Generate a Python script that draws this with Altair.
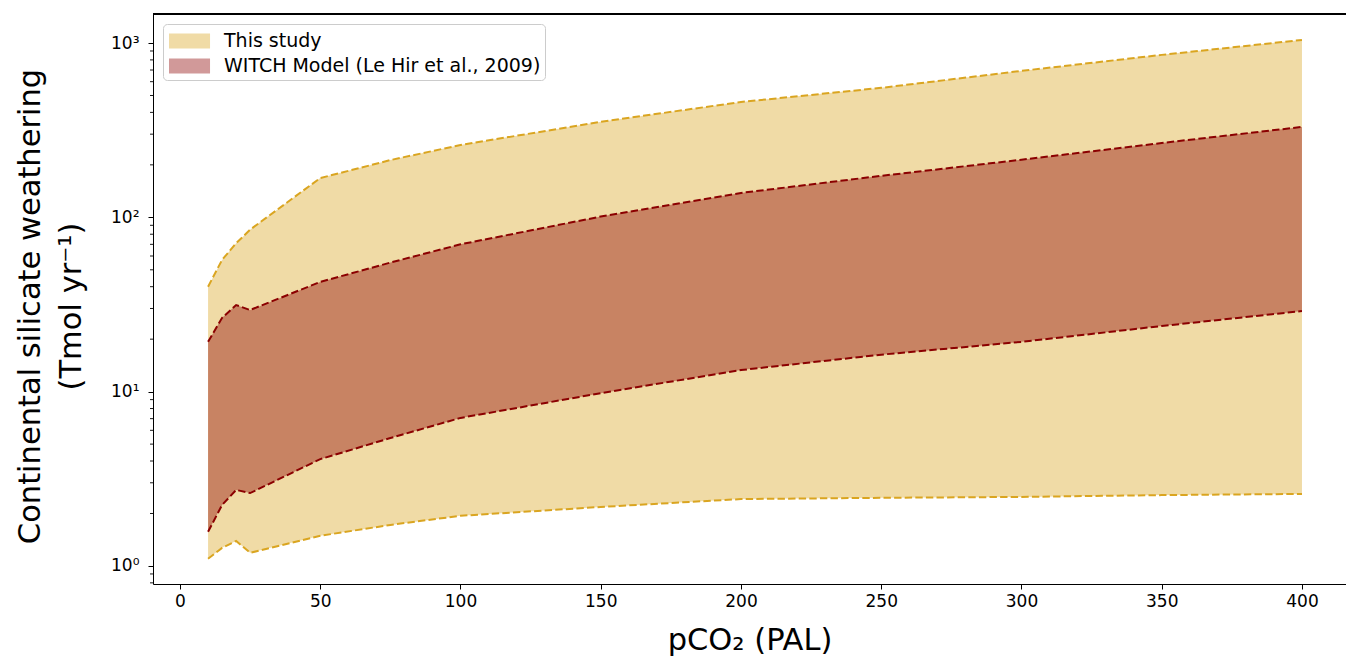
import altair as alt
import pandas as pd

# ---- data ----
pco2 = [10, 15, 20, 25, 50, 75, 100, 150, 200, 250, 300, 350, 400]
study_lo = [1.10, 1.27, 1.39, 1.19, 1.49, 1.72, 1.94, 2.18, 2.42, 2.46, 2.49, 2.55, 2.59]
study_hi = [40, 57, 71, 85, 168, 213, 260, 353, 459, 553, 692, 855, 1042]
witch_lo = [1.57, 2.24, 2.73, 2.62, 4.1, 5.42, 7.07, 9.8, 13.3, 16.3, 19.3, 23.8, 29.0]
witch_hi = [19.3, 26.5, 31.4, 29.4, 42.6, 55, 70, 101, 138, 173, 214, 267, 330]
series_names = ["This study", "WITCH Model (Le Hir et al., 2009)"]
series_colors = ["goldenrod", "darkred"]
x_ticks = [0, 50, 100, 150, 200, 250, 300, 350, 400]
y_major = [1, 10, 100, 1000]
y_minor = [0.8, 0.9, 2, 3, 4, 5, 6, 7, 8, 9, 20, 30, 40, 50, 60, 70, 80, 90,
           200, 300, 400, 500, 600, 700, 800, 900]

rows = []
for name, lo, hi in [(series_names[0], study_lo, study_hi), (series_names[1], witch_lo, witch_hi)]:
    for x, l, h in zip(pco2, lo, hi):
        rows.append({"series": name, "x": x, "lo": l, "hi": h})
df = pd.DataFrame(rows)
lines_df = df.melt(id_vars=["series", "x"], value_vars=["lo", "hi"], var_name="bound", value_name="v")
minor_df = pd.DataFrame({"m": y_minor})

W, H = 1193, 570
FONT = "DejaVu Sans"

xscale = alt.Scale(domain=[-9.63, 415.7], nice=False, zero=False)
yscale = alt.Scale(type="log", domain=[0.788, 1467], nice=False)

common_axis = dict(grid=False, labelFont=FONT, titleFont=FONT, labelColor="black",
                   titleColor="black", titleFontWeight="normal", domainColor="black",
                   tickColor="black", domainWidth=1, tickWidth=1, tickSize=5)

xenc = alt.X("x:Q", scale=xscale,
             axis=alt.Axis(values=x_ticks, title="pCO₂ (PAL)",
                           labelFontSize=17, titleFontSize=30.5, titlePadding=16,
                           labelPadding=4, format="d", **common_axis))
yenc = alt.Y("lo:Q", scale=yscale,
             axis=alt.Axis(values=y_major, title=["Continental silicate weathering", "(Tmol yr⁻¹)"],
                           labelFontSize=17, titleFontSize=30.5,
                           titleLineHeight=41, titlePadding=24, labelPadding=9,
                           titleY=292,
                           labelExpr="datum.value == 1 ? '10⁰' : datum.value == 10 ? '10¹' : datum.value == 100 ? '10²' : '10³'",
                           **common_axis))

color = alt.Color("series:N",
                  scale=alt.Scale(domain=series_names, range=series_colors),
                  legend=alt.Legend(title=None, orient="none", legendX=10, legendY=10,
                                    symbolType="M-0.846,-0.577H2.31V0.577H-0.846Z",
                                    symbolSize=676, symbolOpacity=0.4,
                                    symbolStrokeWidth=0,
                                    labelFontSize=19, labelFont=FONT, labelColor="black",
                                    labelLimit=600,
                                    labelOffset=31, rowPadding=2, padding=4,
                                    fillColor="white", strokeColor="#cccccc",
                                    cornerRadius=4))

base = alt.Chart(df)
area_study = base.transform_filter(alt.datum.series == series_names[0]).mark_area(opacity=0.4).encode(
    x=xenc, y=yenc, y2="hi:Q", color=color)
area_witch = base.transform_filter(alt.datum.series == series_names[1]).mark_area(opacity=0.4).encode(
    x=xenc, y=yenc, y2="hi:Q", color=color)

lines = alt.Chart(lines_df).mark_line(strokeDash=[7.4, 3.2], strokeWidth=2).encode(
    x=alt.X("x:Q", scale=xscale),
    y=alt.Y("v:Q", scale=yscale),
    detail=["series:N", "bound:N"],
    stroke=alt.Stroke("series:N", scale=alt.Scale(domain=series_names, range=series_colors), legend=None),
)

minor = alt.Chart(minor_df).mark_rule(color="black", strokeWidth=0.9).encode(
    y=alt.Y("m:Q", scale=yscale),
    x=alt.value(-3),
    x2=alt.value(0),
)

top_border = alt.Chart(minor_df).mark_rule(color="black", strokeWidth=1).encode(
    x=alt.value(0), x2=alt.value(W), y=alt.value(0))

chart = alt.layer(area_study, area_witch, lines, minor, top_border).resolve_scale(
    color="shared"
).properties(
    width=W, height=H,
    autosize=alt.AutoSizeParams(type="none"),
    padding={"left": 153, "top": 14, "right": 0, "bottom": 79},
).configure_view(stroke=None).configure(background="white", font=FONT)

chart.save("out.html", embed_options={"renderer": "svg", "actions": False})
